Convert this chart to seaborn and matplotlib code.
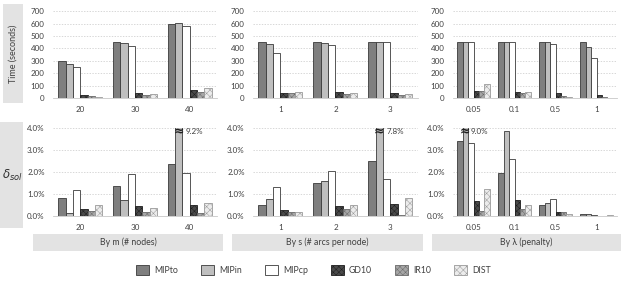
import seaborn as sns
import matplotlib.pyplot as plt
import matplotlib.patches as mpatches
import pandas as pd

methods = ["MIPto", "MIPin", "MIPcp", "GD10", "IR10", "DIST"]

m_cats = ["20", "30", "40"]
s_cats = ["1", "2", "3"]
lam_cats = ["0.05", "0.1", "0.5", "1"]

# time (seconds), one row per category, columns follow `methods`
time_m = [[300, 275, 250, 25, 20, 12],
          [450, 445, 420, 40, 28, 33],
          [600, 603, 580, 65, 50, 80]]
time_s = [[450, 435, 365, 42, 38, 50],
          [450, 445, 430, 48, 33, 40],
          [455, 455, 455, 40, 28, 32]]
time_lam = [[455, 455, 455, 60, 60, 110],
            [450, 455, 455, 50, 42, 50],
            [455, 450, 435, 40, 18, 5],
            [450, 415, 325, 25, 12, 3]]

# delta_sol (%)
gap_m = [[0.80, 0.15, 1.20, 0.30, 0.25, 0.48],
         [1.35, 0.72, 1.90, 0.45, 0.20, 0.38],
         [2.35, 9.20, 1.95, 0.52, 0.15, 0.57]]
gap_s = [[0.50, 0.78, 1.30, 0.28, 0.20, 0.18],
         [1.48, 1.60, 2.05, 0.45, 0.30, 0.48],
         [2.50, 7.80, 1.70, 0.55, 0.05, 0.80]]
gap_lam = [[3.40, 9.00, 3.30, 0.70, 0.25, 1.25],
           [1.95, 3.85, 2.60, 0.75, 0.30, 0.52],
           [0.52, 0.57, 0.77, 0.20, 0.20, 0.10],
           [0.08, 0.10, 0.06, 0.02, 0.02, 0.05]]

group_titles = ["By m (# nodes)", "By s (# arcs per node)", "By \u03bb (penalty)"]

colors = ["#7f7f7f", "#bfbfbf", "#ffffff", "#4a4a4a", "#a6a6a6", "#ececec"]
hatches = ["", "", "", "xxxxxx", "xxxxxx", "xxxxx"]
edges = ["#3a3a3a", "#3a3a3a", "#3a3a3a", "#1e1e1e", "#6a6a6a", "#9a9a9a"]


def to_frame(cats, rows):
    recs = []
    for c, row in zip(cats, rows):
        for meth, v in zip(methods, row):
            recs.append({"cat": c, "method": meth, "value": v})
    return pd.DataFrame(recs)


sns.set_style("white")
plt.rcParams["font.family"] = ["Lato", "DejaVu Sans"]
plt.rcParams["hatch.linewidth"] = 0.35

fig = plt.figure(figsize=(6.27, 2.85), dpi=100)

lefts = [0.0845, 0.4035, 0.7225]
widths = [0.2616, 0.263, 0.2616]
panels = [(m_cats, time_m, gap_m), (s_cats, time_s, gap_s), (lam_cats, time_lam, gap_lam)]

for i, (cats, tdata, gdata) in enumerate(panels):
    for row, (data, bottom, height, ymax, step) in enumerate(
            [(tdata, 0.656, 0.305, 700, 100), (gdata, 0.242, 0.309, 4.0, 1.0)]):
        ax = fig.add_axes([lefts[i], bottom, widths[i], height])
        df = to_frame(cats, data)
        sns.barplot(data=df, x="cat", y="value", hue="method", hue_order=methods,
                    palette=colors, width=0.8, linewidth=0.6,
                    legend=False, ax=ax)
        for j, cont in enumerate(ax.containers):
            for p in cont:
                p.set_hatch(hatches[j])
                p.set_edgecolor(edges[j])
        ax.set_ylim(0, ymax)
        ticks = [k * step for k in range(int(round(ymax / step)) + 1)]
        ax.set_yticks(ticks)
        if row == 0:
            ax.set_yticklabels([f"{t:.0f}" for t in ticks])
        else:
            ax.set_yticklabels([f"{t:.1f}%" for t in ticks])
        ax.yaxis.grid(True, color="#c8c8c8", linestyle=(0, (2, 2)), linewidth=0.5)
        ax.set_axisbelow(True)
        for s in ["left", "right", "top"]:
            ax.spines[s].set_visible(False)
        ax.spines["bottom"].set_color("#c8c8c8")
        ax.spines["bottom"].set_linewidth(0.6)
        ax.tick_params(axis="both", length=0, labelsize=5.8, colors="#404040", pad=6)
        ax.set_xlabel("")
        ax.set_ylabel("")
        ax.set_xlim(-0.5, len(cats) - 0.5)
        # capped bars with break symbol
        if row == 1:
            for cont in ax.containers:
                for p, v in zip(cont, cont.datavalues):
                    if v > ymax:
                        cx = p.get_x() + p.get_width() / 2
                        ax.text(cx, ymax * 0.955, "\u2248", ha="center", va="center",
                                fontsize=9, fontweight="bold", color="#202020",
                                family=["DejaVu Sans"], clip_on=False)
                        ax.text(cx + p.get_width() * 0.95, ymax * 0.955, f"{v:.1f}%",
                                ha="left", va="center", fontsize=5.8, color="#404040")

# left label strips
fig.patches.append(mpatches.Rectangle((0.005, 0.639), 0.031, 0.347, transform=fig.transFigure,
                                      facecolor="#e3e3e3", edgecolor="none"))
fig.patches.append(mpatches.Rectangle((0.0, 0.2), 0.036, 0.372, transform=fig.transFigure,
                                      facecolor="#e3e3e3", edgecolor="none"))
fig.text(0.021, 0.81, "Time (seconds)", rotation=90, ha="center", va="center",
         fontsize=6.5, color="#404040")
fig.text(0.019, 0.385, r"$\delta_{sol}$", ha="center", va="center", fontsize=8.5, color="#303030")

# bottom group label boxes
box_x = [(33, 223), (232, 423), (432, 621)]
for (x0, x1), title in zip(box_x, group_titles):
    fig.patches.append(mpatches.Rectangle((x0 / 627, 0.119), (x1 - x0) / 627, 0.06,
                                          transform=fig.transFigure,
                                          facecolor="#e3e3e3", edgecolor="none"))
    fig.text((x0 + x1) / 2 / 627, 0.149, title, ha="center", va="center",
             fontsize=6.3, color="#404040")

handles = [mpatches.Patch(facecolor=c, edgecolor=e, hatch=h, linewidth=0.6, label=m)
           for c, e, h, m in zip(colors, edges, hatches, methods)]
fig.legend(handles=handles, loc="center", bbox_to_anchor=(0.5, 0.053), ncol=6,
           frameon=False, fontsize=6.3, handlelength=1.5, handleheight=1.5,
           columnspacing=2.6, handletextpad=0.6, labelcolor="#404040")

fig.savefig("out.png", dpi=100)
